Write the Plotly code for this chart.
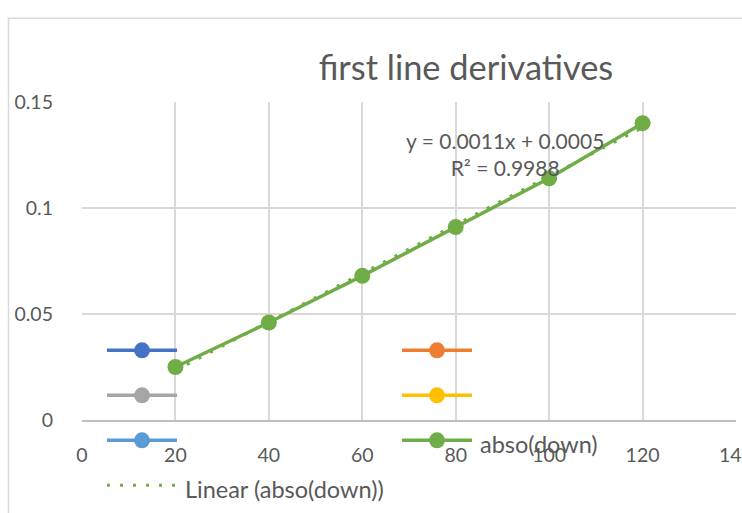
import numpy as np
import plotly.graph_objects as go

# ---- data ----
x_vals = [20, 40, 60, 80, 100, 120]
abso_down = [0.025, 0.046, 0.068, 0.091, 0.114, 0.140]
series_name = "abso(down)"
trend_name = "Linear (abso(down))"
empty_series_colors = ["#4472C4", "#ED7D31", "#A5A5A5", "#FFC000", "#5B9BD5"]
x_ticks = [0, 20, 40, 60, 80, 100, 120, 140]
y_ticks = [0, 0.05, 0.1, 0.15]
y_tick_text = ["0", "0.05", "0.1", "0.15"]
title_text = "first line derivatives"
eq_text = "y = 0.0011x + 0.0005<br>R² = 0.9988"

FONT = "Lato, Carlito, 'Liberation Sans', sans-serif"
TXT = "#595959"
GREEN = "#70AD47"
LEG_TXT = '<span style="font-size:23.5px">\u2009{}</span>'

fig = go.Figure()

# empty series (shown only in legend, like the Excel chart)
for c in empty_series_colors:
    fig.add_trace(go.Scatter(
        x=[None], y=[None], mode="lines+markers", name="",
        line=dict(color=c, width=3.5), marker=dict(color=c, size=16),
    ))

fig.add_trace(go.Scatter(
    x=x_vals, y=abso_down, mode="lines+markers", name=LEG_TXT.format(series_name),
    line=dict(color=GREEN, width=3.5), marker=dict(color=GREEN, size=16),
))

coef = np.polyfit(x_vals, abso_down, 1)
tx = [x_vals[0], x_vals[-1]]
ty = list(np.polyval(coef, tx))
fig.add_trace(go.Scatter(
    x=tx, y=ty, mode="lines", name=LEG_TXT.format(trend_name),
    line=dict(color=GREEN, width=3, dash="3px,10px"),
))

fig.update_layout(
    width=742, height=513,
    margin=dict(l=82, r=6, t=102, b=93, autoexpand=False),
    paper_bgcolor="white", plot_bgcolor="white",
    font=dict(family=FONT, color=TXT, size=19.5),
    title=dict(text=title_text, x=0.628, xanchor="center", y=0.868, yanchor="middle",
               font=dict(family=FONT, size=34.4, color=TXT)),
    showlegend=True,
    legend=dict(orientation="h", x=0.0306, xanchor="left", y=0.3056, yanchor="top",
                bgcolor="rgba(0,0,0,0)", font=dict(size=32.3, color=TXT, family=FONT),
                entrywidth=210, entrywidthmode="pixels", itemwidth=70,
                traceorder="normal"),
    xaxis=dict(range=[0, 140], tickvals=x_ticks, showgrid=True, gridcolor="#D9D9D9",
               gridwidth=1.5, zeroline=False, showline=True, linecolor="#BFBFBF",
               linewidth=2, ticks="", tickfont=dict(size=19.5, color=TXT),
               ticklabelstandoff=17, ticklabeloverflow="allow"),
    yaxis=dict(range=[0, 0.15], tickvals=y_ticks, ticktext=y_tick_text, showgrid=True,
               gridcolor="#D9D9D9", gridwidth=1.5, zeroline=False, showline=False,
               ticks="", tickfont=dict(size=19.5, color=TXT), ticklabelstandoff=28),
    annotations=[dict(text=eq_text, x=0.647, y=0.837, xref="paper", yref="paper",
                      xanchor="center", yanchor="middle",
                      showarrow=False, font=dict(size=21, color=TXT, family=FONT),
                      align="center")],
    shapes=[dict(type="rect", xref="paper", yref="paper", x0=-0.1124, x1=1.2,
                 y0=-0.3, y1=1.263, line=dict(color="#D9D9D9", width=1.5),
                 layer="below")],
)

fig.write_html("out.html")
